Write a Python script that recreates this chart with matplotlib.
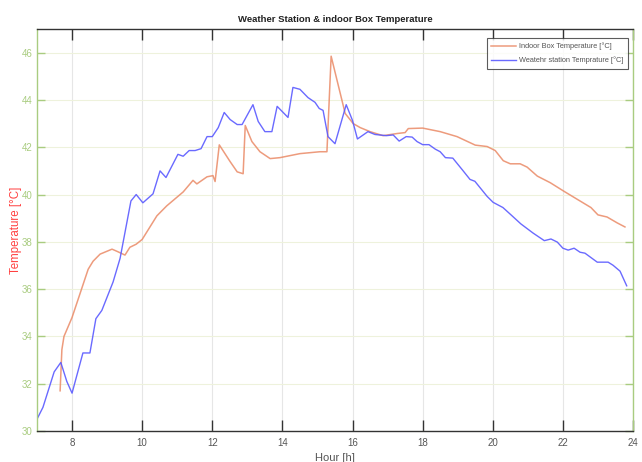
import matplotlib.pyplot as plt

plt.rcParams['font.family'] = ['Liberation Sans Narrow', 'DejaVu Sans Condensed', 'Liberation Sans', 'DejaVu Sans']

# Weather station temperature (hour, degC)
station_hour = [7.0, 7.17, 7.49, 7.68, 7.85, 8.0, 8.31, 8.51, 8.68, 8.85, 9.17, 9.37,
                9.68, 9.83, 10.02, 10.31, 10.51, 10.68, 11.02, 11.17, 11.34, 11.51,
                11.68, 11.85, 12.0, 12.17, 12.34, 12.51, 12.71, 12.85, 13.16, 13.31,
                13.5, 13.7, 13.85, 14.16, 14.3, 14.5, 14.73, 14.93, 15.05, 15.16,
                15.3, 15.5, 15.82, 16.0, 16.14, 16.44, 16.64, 16.96, 17.16, 17.33,
                17.53, 17.7, 17.84, 18.0, 18.18, 18.36, 18.5, 18.65, 18.86, 19.14,
                19.35, 19.49, 19.84, 20.01, 20.29, 20.55, 20.8, 21.15, 21.47, 21.66,
                21.84, 22.0, 22.15, 22.32, 22.49, 22.63, 22.98, 23.29, 23.43, 23.63,
                23.82]
station_temp = [30.5, 31.0, 32.5, 32.9, 32.1, 31.6, 33.3, 33.3, 34.75, 35.1, 36.3, 37.3,
                39.73, 40.0, 39.65, 40.03, 41.0, 40.72, 41.7, 41.62, 41.86, 41.86,
                41.94, 42.45, 42.45, 42.83, 43.47, 43.17, 42.96, 42.96, 43.8, 43.09,
                42.66, 42.66, 43.73, 43.26, 44.53, 44.45, 44.1, 43.9, 43.64, 43.56,
                42.45, 42.15, 43.8, 43.13, 42.35, 42.66, 42.54, 42.49, 42.52, 42.26,
                42.45, 42.43, 42.24, 42.11, 42.11, 41.92, 41.81, 41.56, 41.54, 41.03,
                40.64, 40.56, 39.92, 39.67, 39.45, 39.1, 38.76, 38.37, 38.05, 38.12,
                37.99, 37.73, 37.65, 37.73, 37.56, 37.52, 37.14, 37.14, 37.01, 36.76,
                36.14]

# Indoor box temperature (hour, degC)
box_hour = [7.66, 7.71, 7.77, 8.0, 8.46, 8.6, 8.8, 9.14, 9.28, 9.51, 9.65, 9.83,
            10.0, 10.42, 10.7, 11.17, 11.45, 11.56, 11.85, 12.02, 12.08, 12.2,
            12.51, 12.71, 12.88, 12.94, 13.13, 13.36, 13.65, 13.93, 14.5, 15.07,
            15.27, 15.39, 15.79, 16.02, 16.22, 16.5, 16.87, 17.27, 17.5, 17.59,
            18.0, 18.5, 18.98, 19.5, 19.84, 20.07, 20.3, 20.5, 20.78, 20.98,
            21.27, 21.64, 22.05, 22.43, 22.8, 23.0, 23.26, 23.55, 23.77]
box_temp = [31.7, 33.44, 34.0, 34.8, 36.84, 37.18, 37.48, 37.69, 37.6, 37.44, 37.77, 37.9,
            38.1, 39.1, 39.52, 40.11, 40.6, 40.45, 40.75, 40.8, 40.55, 42.1,
            41.39, 40.96, 40.88, 42.92, 42.24, 41.81, 41.52, 41.56, 41.73, 41.81,
            41.81, 45.85, 43.43, 43.0, 42.83, 42.66, 42.49, 42.58, 42.62, 42.79,
            42.81, 42.66, 42.45, 42.09, 42.03, 41.86, 41.43, 41.3, 41.3, 41.16,
            40.78, 40.5, 40.12, 39.78, 39.45, 39.14, 39.05, 38.8, 38.63]

green = '#a9cc80'
gray = '#555555'

fig = plt.figure(figsize=(6.42, 4.62), dpi=100)
ax = fig.add_axes([0.0576, 0.0671, 0.9284, 0.8701])

ax.plot(box_hour, box_temp, color='#ea8a66', linewidth=1.1, alpha=0.85,
        label='Indoor Box Temperature [°C]')
ax.plot(station_hour, station_temp, color='#5a5aff', linewidth=1.0, alpha=0.9,
        label='Weatehr station Temprature [°C]')

ax.set_xlim(7, 24)
ax.set_ylim(30, 47)
ax.set_xticks(range(8, 25, 2))
ax.set_yticks(range(30, 47, 2))

ax.grid(axis='x', color='#e6e6e6', linewidth=0.8)
ax.grid(axis='y', color='#eef2dc', linewidth=0.8)

ax.tick_params(axis='x', direction='in', length=8, colors='#333333', labelcolor=gray,
               labelsize=7, top=True, width=1, pad=5)
ax.tick_params(axis='y', direction='in', length=6, colors=green, labelcolor=green,
               labelsize=7, right=True, width=1, pad=3)
ax.spines['bottom'].set_color('#333333')
ax.spines['top'].set_color('#333333')
ax.spines['left'].set_color(green)
ax.spines['right'].set_color(green)
for s in ax.spines.values():
    s.set_linewidth(1.0)

ax.set_title('Weather Station & indoor Box Temperature', fontsize=6.8, fontweight='bold',
             color='#222222', pad=5)
ax.set_xlabel('Hour [h]', fontsize=8, color=gray, labelpad=4)
ax.set_ylabel('Temperature [°C]', fontsize=8.3, color='#ff4040')
ax.yaxis.set_label_coords(-0.025, 0.5)

leg = ax.legend(loc='upper right', fontsize=5.3, frameon=True, fancybox=False,
                edgecolor='#333333', handlelength=3.4, handletextpad=0.4,
                borderpad=0.6, labelspacing=0.9, borderaxespad=0,
                bbox_to_anchor=(0.9916, 0.9776))
for t in leg.get_texts():
    t.set_color(gray)
leg.get_frame().set_linewidth(0.8)

plt.savefig('out.png')
